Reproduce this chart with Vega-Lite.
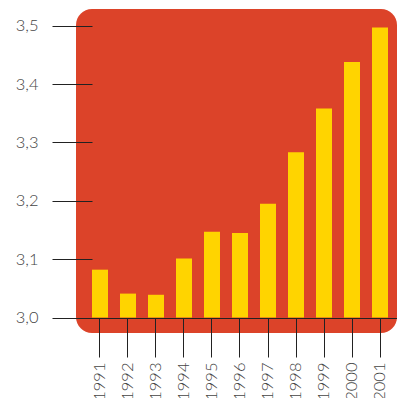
{
  "$schema": "https://vega.github.io/schema/vega-lite/v6.json",
  "autosize": {"type": "none"},
  "padding": {"left": 76, "top": 9, "right": 0, "bottom": 65},
  "width": 321,
  "height": 324,
  "background": "#ffffff",
  "config": {
    "view": {"fill": "#dc4329", "stroke": null, "cornerRadius": 16},
    "axis": {
      "labelFont": "Lato",
      "labelFontWeight": 300,
      "labelFontSize": 16.5,
      "labelColor": "#444444",
      "tickColor": "#222222",
      "tickWidth": 1,
      "domainColor": "#222222",
      "title": null,
      "grid": false
    }
  },
  "data": {
    "values": [
      {"year": "1991", "value": 3.082},
      {"year": "1992", "value": 3.041},
      {"year": "1993", "value": 3.039},
      {"year": "1994", "value": 3.101},
      {"year": "1995", "value": 3.147},
      {"year": "1996", "value": 3.145},
      {"year": "1997", "value": 3.195},
      {"year": "1998", "value": 3.283},
      {"year": "1999", "value": 3.358},
      {"year": "2000", "value": 3.438},
      {"year": "2001", "value": 3.497}
    ]
  },
  "mark": {"type": "bar", "color": "#ffd400"},
  "encoding": {
    "x": {
      "field": "year",
      "type": "ordinal",
      "scale": {"paddingInner": 0.4286, "paddingOuter": 0.4464, "align": 0.64},
      "axis": {
        "offset": -15,
        "tickSize": 39,
        "labelPadding": 5,
        "labelAngle": -90,
        "labelBound": false,
        "labelOverlap": false,
        "domain": true
      }
    },
    "y": {
      "field": "value",
      "type": "quantitative",
      "scale": {"domain": [2.9735, 3.5286], "nice": false, "zero": false},
      "axis": {
        "values": [3.0, 3.1, 3.2, 3.3, 3.4, 3.5],
        "offset": -16,
        "tickSize": 40,
        "labelPadding": 14,
        "domain": false,
        "labelExpr": "replace(format(datum.value, '.1f'), '.', ',')"
      }
    },
    "y2": {"datum": 3.0}
  }
}
